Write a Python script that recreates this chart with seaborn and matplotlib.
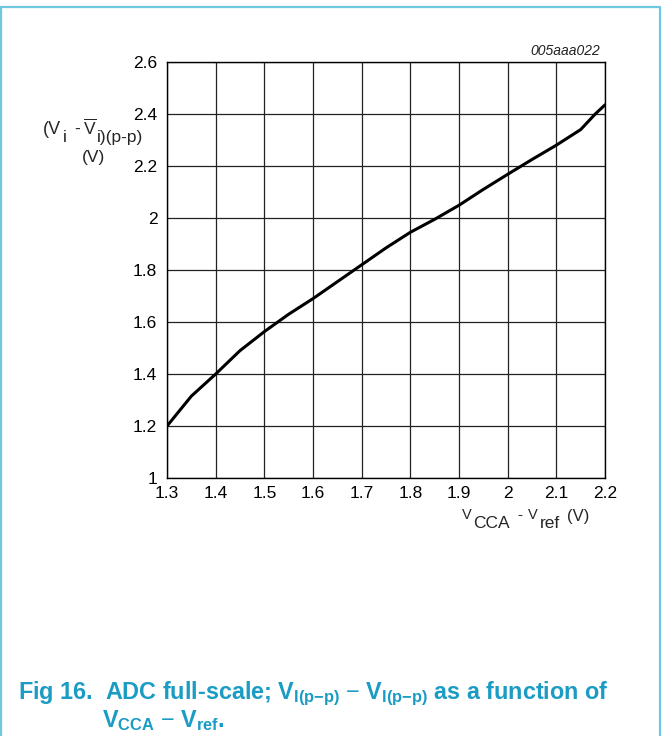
import numpy as np
import pandas as pd
import matplotlib
matplotlib.use("Agg")
import matplotlib.pyplot as plt
from matplotlib.lines import Line2D
import seaborn as sns

# values
v_cca_ref = [1.30, 1.35, 1.40, 1.45, 1.50, 1.55, 1.60, 1.65, 1.70, 1.75,
             1.80, 1.85, 1.90, 1.95, 2.00, 2.05, 2.10, 2.15, 2.18, 2.20]
v_pp = [1.20, 1.315, 1.40, 1.49, 1.563, 1.63, 1.69, 1.755, 1.82, 1.885,
        1.945, 1.995, 2.049, 2.11, 2.168, 2.225, 2.28, 2.34, 2.40, 2.435]
x_ticks = [1.3, 1.4, 1.5, 1.6, 1.7, 1.8, 1.9, 2.0, 2.1, 2.2]
x_tick_labels = ["1.3", "1.4", "1.5", "1.6", "1.7", "1.8", "1.9", "2", "2.1", "2.2"]
y_ticks = [1.0, 1.2, 1.4, 1.6, 1.8, 2.0, 2.2, 2.4, 2.6]
y_tick_labels = ["1", "1.2", "1.4", "1.6", "1.8", "2", "2.2", "2.4", "2.6"]

df = pd.DataFrame({"vcca": v_cca_ref, "vpp": v_pp})

sns.set_style("white")
plt.rcParams["font.family"] = ["Liberation Sans", "DejaVu Sans"]
plt.rcParams["mathtext.fontset"] = "custom"
plt.rcParams["mathtext.rm"] = "Liberation Sans"
plt.rcParams["mathtext.it"] = "Liberation Sans:italic"
plt.rcParams["mathtext.bf"] = "Liberation Sans:bold"

W, H = 662, 736
fig = plt.figure(figsize=(W / 100, H / 100), dpi=100)
ax = fig.add_axes([0.2523, 0.3505, 0.6616, 0.5653])

sns.lineplot(data=df, x="vcca", y="vpp", ax=ax, color="black", linewidth=2.2)

ax.set_xlim(1.3, 2.2)
ax.set_ylim(1.0, 2.6)
ax.set_xticks(x_ticks)
ax.set_xticklabels(x_tick_labels)
ax.set_yticks(y_ticks)
ax.set_yticklabels(y_tick_labels)
ax.tick_params(axis="both", length=0, labelsize=12.5, colors="black")
ax.tick_params(axis="x", pad=6)
ax.tick_params(axis="y", pad=7)
ax.grid(True, color="#222222", linewidth=0.9)
for s in ax.spines.values():
    s.set_color("black")
    s.set_linewidth(1.0)
ax.set_xlabel("")
ax.set_ylabel("")


def put(x, y, s, fs, **kw):
    # x, y in pixels from top-left, y is the baseline
    fig.text(x / W, 1 - y / H, s, fontsize=fs, ha="left", va="baseline", **kw)


# y axis label: (Vi - Vi)(p-p) (V)
put(43, 134, "(V", 13)
put(63, 142, "i", 12.5)
put(74, 134, "-", 12.5)
put(83, 134, r"$\overline{\mathrm{V}}$", 12.5)
put(97, 142, "i)(p-p)", 12.5)
put(82, 162, "(V)", 12.5)

# x axis label: VCCA - Vref (V)
put(462, 519, "V", 10.5)
put(473, 528, "CCA", 12.5)
put(517, 519, "-", 11)
put(528, 519, "V", 10.5)
put(540, 528, "ref", 12.5)
put(567, 521, "(V)", 12)

fig.text(0.906, 0.921, "005aaa022", ha="right", va="bottom",
         fontsize=10, style="italic", color="#222222")

# caption
teal = "#1b9cc4"
fig.text(0.027, 0.057,
         r"Fig 16.  ADC full-scale; $\mathbf{V_{I(p{-}p)}}$ $-$ $\mathbf{V_{I(p{-}p)}}$ as a function of",
         fontsize=16.8, fontweight="bold", color=teal, ha="left", va="center")
fig.text(0.154, 0.021, r"$\mathbf{V_{CCA}}$ $-$ $\mathbf{V_{ref}}$.",
         fontsize=16.8, fontweight="bold", color=teal, ha="left", va="center")

# frame around the figure
frame = "#6fc8e0"
fig.add_artist(Line2D([0.002, 0.002], [0.0, 0.991], color=frame, lw=1.6, transform=fig.transFigure))
fig.add_artist(Line2D([0.002, 0.997], [0.991, 0.991], color=frame, lw=1.6, transform=fig.transFigure))
fig.add_artist(Line2D([0.997, 0.997], [0.0, 0.991], color=frame, lw=1.6, transform=fig.transFigure))

fig.savefig("out.png", dpi=100)
